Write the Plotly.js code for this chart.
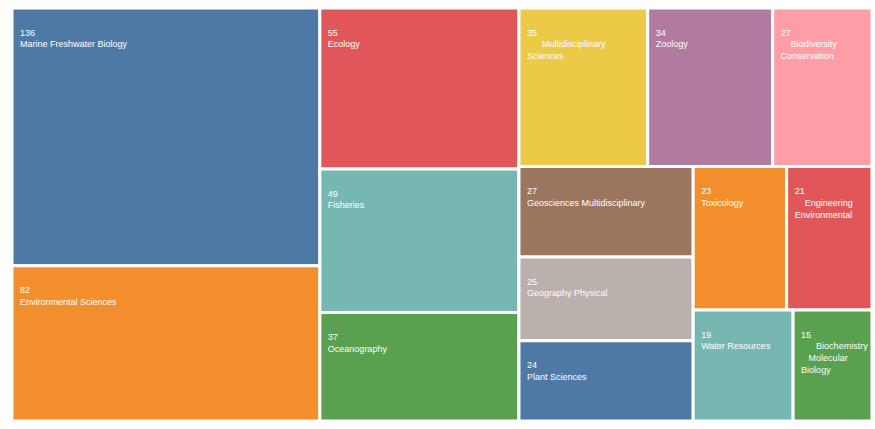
<!DOCTYPE html>
<html>
<head>
<meta charset="utf-8">
<script src="https://cdn.plot.ly/plotly-3.0.1.min.js"></script>
<style>html,body{margin:0;padding:0;background:#fff;}#chart{width:875px;height:429px;}</style>
</head>
<body>
<div id="chart"></div>
<script>
// Data
var categories = ["Marine Freshwater Biology","Environmental Sciences","Ecology","Fisheries","Oceanography","Multidisciplinary Sciences","Zoology","Biodiversity Conservation","Geosciences Multidisciplinary","Geography Physical","Plant Sciences","Toxicology","Engineering Environmental","Water Resources","Biochemistry Molecular Biology"];
var values = [136,82,55,49,37,35,34,27,27,25,24,23,21,19,15];
// wrapped label lines as shown in the tiles, with the indent (in spaces) of each line
var labelLines = [
  [["Marine Freshwater Biology",0]],
  [["Environmental Sciences",0]],
  [["Ecology",0]],
  [["Fisheries",0]],
  [["Oceanography",0]],
  [["Multidisciplinary",6],["Sciences",0]],
  [["Zoology",0]],
  [["Biodiversity",4],["Conservation",0]],
  [["Geosciences Multidisciplinary",0]],
  [["Geography Physical",0]],
  [["Plant Sciences",0]],
  [["Toxicology",0]],
  [["Engineering",4],["Environmental",0]],
  [["Water Resources",0]],
  [["Biochemistry",6],["Molecular",3],["Biology",0]]
];
var colors = ["#4E79A7","#F28E2B","#E15759","#76B7B2","#59A14F","#EDC948","#B07AA1","#FF9DA7","#9C755F","#BAB0AC","#4E79A7","#F28E2B","#E15759","#76B7B2","#59A14F"];
// grouping used only to reproduce the tile arrangement
var leafGroups = ["A","A","B","B","B","Ct","Ct","Ct","Cbl","Cbl","Cbl","Cbr1","Cbr1","Cbr2","Cbr2"];
var groupIds = ["root","A","B","C","Ct","Cb","Cbl","Cbr","Cbr1","Cbr2"];
var groupParents = ["","root","root","root","C","C","Cb","Cb","Cbr","Cbr"];

function sp(n){ var s = ""; for (var k = 0; k < n; k++) s += "&nbsp;"; return s; }

var ids = [], parents = [], vals = [], texts = [], cols = [], lw = [], lbls = [];
groupIds.forEach(function(g, i){
  ids.push(g); parents.push(groupParents[i]); vals.push(0); texts.push("");
  cols.push("rgba(255,255,255,0)"); lw.push(0); lbls.push(g);
});
categories.forEach(function(c, i){
  ids.push(c); parents.push(leafGroups[i]); vals.push(values[i]);
  var lines = [sp(2) + values[i]];
  labelLines[i].forEach(function(l){ lines.push(sp(2 + l[1]) + l[0]); });
  texts.push("<span style='font-size:14px'>&nbsp;</span><br>" + lines.join("<br>"));
  cols.push(colors[i]); lw.push(3); lbls.push(c);
});

var trace = {
  type: "treemap",
  ids: ids,
  labels: lbls,
  parents: parents,
  values: vals,
  text: texts,
  textinfo: "text",
  hovertemplate: "%{label}: %{value}<extra></extra>",
  textposition: "top left",
  textfont: {family: "Liberation Sans, Arial, sans-serif", size: 9, color: "#ffffff"},
  marker: {colors: cols, line: {color: "#ffffff", width: lw}, pad: {t: 0, l: 0, r: 0, b: 0}},
  tiling: {packing: "slice-dice", pad: 0},
  pathbar: {visible: false},
  sort: false,
  branchvalues: "remainder",
  root: {color: "rgba(255,255,255,0)"}
};

var layout = {
  width: 875, height: 429,
  margin: {l: 12, r: 3, t: 8, b: 8},
  paper_bgcolor: "#ffffff",
  showlegend: false
};

Plotly.newPlot("chart", [trace], layout, {displayModeBar: false});
</script>
</body>
</html>
